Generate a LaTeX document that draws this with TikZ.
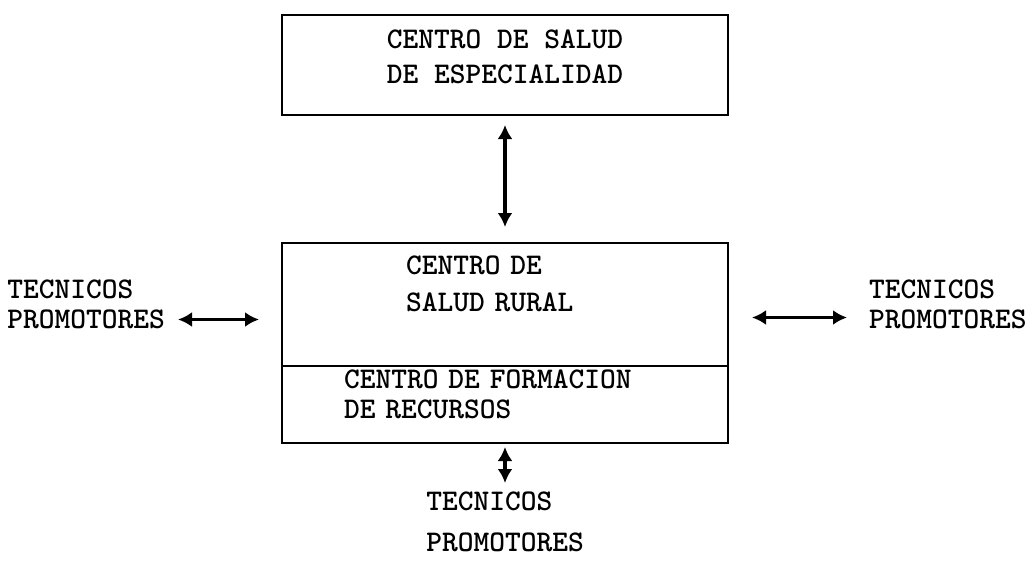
\documentclass[tikz,border=0pt]{standalone}
\usepackage{tikz}
\usetikzlibrary{arrows.meta,positioning}

\tikzset{
  caja/.style={draw, line width=2.6pt, outer sep=0pt, minimum width=446pt,
    font=\ttfamily\bfseries\fontsize{30}{35}\selectfont},
  etiqueta/.style={inner sep=0pt, align=left,
    font=\ttfamily\bfseries\fontsize{30}{30}\selectfont},
  flecha/.style={{Latex[length=14pt,width=15pt]}-{Latex[length=14pt,width=15pt]}, line width=3.5pt}
}

\begin{document}
\begin{tikzpicture}[x=1pt,y=-1pt]
        \useasboundingbox (0,0) rectangle (1033,560);

        \node[caja, minimum height=100pt, align=center, text depth=17pt] (especialidad) at (505,65)
          {CENTRO DE SALUD\\DE ESPECIALIDAD};
        \node[caja, minimum height=123pt, inner xsep=124pt, inner ysep=2pt, text width=198pt, align=left,
          text depth=78pt, font=\ttfamily\bfseries\fontsize{30}{37}\selectfont] (rural) [below=128pt of especialidad]
          {CENTRO DE\\SALUD RURAL};
        \node[caja, minimum height=77pt, inner xsep=62pt, inner ysep=2pt, text width=322pt, align=left,
          text depth=50pt, font=\ttfamily\bfseries\fontsize{30}{30}\selectfont] (formacion) [below=0pt of rural]
          {CENTRO DE FORMACION\\DE RECURSOS};

        \node[etiqueta] (tecizq) [left=117pt of rural] {TECNICOS\\PROMOTORES};
        \node[etiqueta] (tecder) [right=141pt of rural] {TECNICOS\\PROMOTORES};
        \node[etiqueta, font=\ttfamily\bfseries\fontsize{30}{41}\selectfont] (tecabajo) [below=49pt of formacion]
          {TECNICOS\\PROMOTORES};

        % flechas
        \draw[flecha, shorten <=10pt, shorten >=16pt] (especialidad) -- (rural);
        \draw[flecha, shorten <=13pt, shorten >=23pt] ([yshift=-15pt]tecizq.east) -- ([yshift=-15pt]tecizq.east -| rural.west);
        \draw[flecha, shorten <=24pt, shorten >=22pt] ([yshift=-13pt]tecder.west -| rural.east) -- ([yshift=-13pt]tecder.west);
        \draw[flecha, line width=4pt, shorten <=4pt, shorten >=9pt] (formacion) -- (tecabajo);
\end{tikzpicture}
\end{document}
